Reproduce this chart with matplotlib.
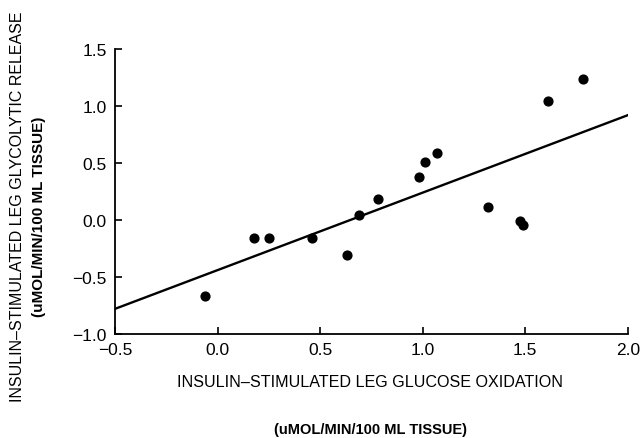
import matplotlib
matplotlib.use("Agg")
import matplotlib.pyplot as plt
import numpy as np

plt.rcParams['font.family'] = ['Liberation Sans', 'DejaVu Sans']

glucose_oxidation = [-0.06, 0.18, 0.25, 0.46, 0.63, 0.69, 0.78, 0.98, 1.01, 1.07, 1.32, 1.475, 1.49, 1.61, 1.78]
glycolytic_release = [-0.67, -0.16, -0.16, -0.16, -0.31, 0.04, 0.18, 0.38, 0.51, 0.59, 0.11, -0.01, -0.04, 1.04, 1.24]
fit_x = [-0.5, 2.0]
fit_y = [-0.78, 0.92]
x_ticks = [-0.5, 0.0, 0.5, 1.0, 1.5, 2.0]
y_ticks = [-1.0, -0.5, 0.0, 0.5, 1.0, 1.5]

fig = plt.figure(figsize=(6.42, 4.39), dpi=100)
ax = fig.add_axes([0.179, 0.237, 0.799, 0.649])
ax.scatter(glucose_oxidation, glycolytic_release, s=40, color='black', zorder=3)
ax.plot(fit_x, fit_y, color='black', lw=1.7)
ax.set_xlim(-0.5, 2.0)
ax.set_ylim(-1.0, 1.5)
ax.set_xticks(x_ticks)
ax.set_yticks(y_ticks)
ax.set_xticklabels([f"{v:.1f}".replace('-', '\u2212') for v in x_ticks])
ax.set_yticklabels([f"{v:.1f}".replace('-', '\u2212') for v in y_ticks])
for s in ['top', 'right']:
    ax.spines[s].set_visible(False)
for s in ['left', 'bottom']:
    ax.spines[s].set_linewidth(1.3)
ax.tick_params(direction='in', length=5, width=1.2, labelsize=12.5, pad=6)

fig.text(0.577, 0.128, "INSULIN\u2013STIMULATED LEG GLUCOSE OXIDATION", ha='center', va='center', fontsize=11.6)
fig.text(0.577, 0.02, "(uMOL/MIN/100 ML TISSUE)", ha='center', va='center', fontsize=10.5, fontweight='bold')
fig.text(0.027, 0.53, "INSULIN\u2013STIMULATED LEG GLYCOLYTIC RELEASE", ha='center', va='center', fontsize=11.5, rotation=90)
fig.text(0.061, 0.506, "(uMOL/MIN/100 ML TISSUE)", ha='center', va='center', fontsize=11, fontweight='bold', rotation=90)

fig.savefig("out.png", dpi=100)
